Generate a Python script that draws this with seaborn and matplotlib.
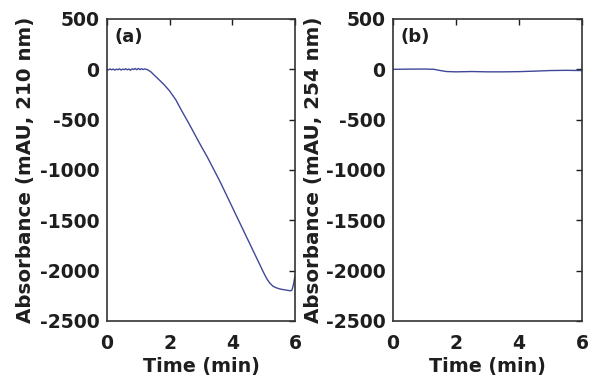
import matplotlib
matplotlib.use("Agg")
import matplotlib.pyplot as plt
import seaborn as sns
import pandas as pd

# ---- data ----
time_a = [0.0, 0.05, 0.1, 0.15, 0.2, 0.25, 0.3, 0.35, 0.4, 0.45, 0.5, 0.55, 0.6,
          0.65, 0.7, 0.75, 0.8, 0.85, 0.9, 0.95, 1.0, 1.05, 1.1, 1.15, 1.2, 1.25,
          1.3, 1.4, 1.5, 1.6, 1.7, 1.8, 1.9, 2.0, 2.2, 2.4, 2.6, 2.8, 3.0, 3.2,
          3.4, 3.6, 3.8, 4.0, 4.2, 4.4, 4.6, 4.8, 5.0, 5.1, 5.2, 5.3, 5.4, 5.5,
          5.6, 5.7, 5.8, 5.85, 5.9, 5.95, 6.0]
abs_210 = [0, -6, 4, -5, 3, -8, 2, -4, 5, -7, 2, -3, 6, -5, 3, -9, 5, -2, 8,
           -4, 9, -3, 6, -2, 4, 0, -4, -25, -55, -85, -115, -145, -180, -215,
           -305, -420, -530, -645, -760, -870, -990, -1110, -1240, -1370, -1500,
           -1630, -1760, -1890, -2020, -2080, -2125, -2155, -2170, -2180, -2187,
           -2192, -2197, -2200, -2195, -2140, -2050]

time_b = [0.0, 0.5, 1.0, 1.3, 1.5, 1.7, 2.0, 2.5, 3.0, 3.5, 4.0, 4.5, 5.0, 5.5, 6.0]
abs_254 = [0, 2, 3, 0, -12, -22, -25, -22, -25, -25, -23, -18, -12, -10, -12]

panels = ["(a)", "(b)"]
ylabels = ["Absorbance (mAU, 210 nm)", "Absorbance (mAU, 254 nm)"]
xticks = [0, 2, 4, 6]
yticks = [-2500, -2000, -1500, -1000, -500, 0, 500]

sns.set_style("white")
plt.rcParams["font.family"] = ["DejaVu Sans"]
plt.rcParams["font.weight"] = "bold"
plt.rcParams["axes.unicode_minus"] = False

fig = plt.figure(figsize=(5.97, 3.86), dpi=100)
ax_a = fig.add_axes([0.1792, 0.1684, 0.3149, 0.7824])
ax_b = fig.add_axes([0.6583, 0.1684, 0.3166, 0.7824])

line_color = "#41479a"
data = [pd.DataFrame({"t": time_a, "v": abs_210}),
        pd.DataFrame({"t": time_b, "v": abs_254})]
label_x = [-0.383, -0.370]
text_color = "#1e1e1e"

for ax, df, lab, yl, lx in zip([ax_a, ax_b], data, panels, ylabels, label_x):
    sns.lineplot(data=df, x="t", y="v", ax=ax, color=line_color, linewidth=1.0)
    ax.set_xlim(0, 6)
    ax.set_ylim(-2500, 500)
    ax.set_xticks(xticks)
    ax.set_yticks(yticks)
    ax.tick_params(direction="in", length=4, width=1.0, top=True, right=True,
                   labelsize=13.5, colors=text_color)
    ax.tick_params(axis="y", pad=5.5)
    ax.tick_params(axis="x", pad=9.5)
    for lbl in ax.get_xticklabels() + ax.get_yticklabels():
        lbl.set_fontweight("bold")
    ax.set_xlabel("Time (min)", fontsize=13.8, fontweight="bold", color=text_color)
    ax.set_ylabel(yl, fontsize=14.3, fontweight="bold", color=text_color)
    ax.yaxis.set_label_coords(lx, 0.5)
    ax.xaxis.set_label_coords(0.5, -0.12)
    for s in ax.spines.values():
        s.set_color("#333333")
        s.set_linewidth(1.2)
    ax.text(0.04, 0.97, lab, transform=ax.transAxes, ha="left", va="top",
            fontsize=13, fontweight="bold", color=text_color)

fig.savefig("out.png", dpi=100)
